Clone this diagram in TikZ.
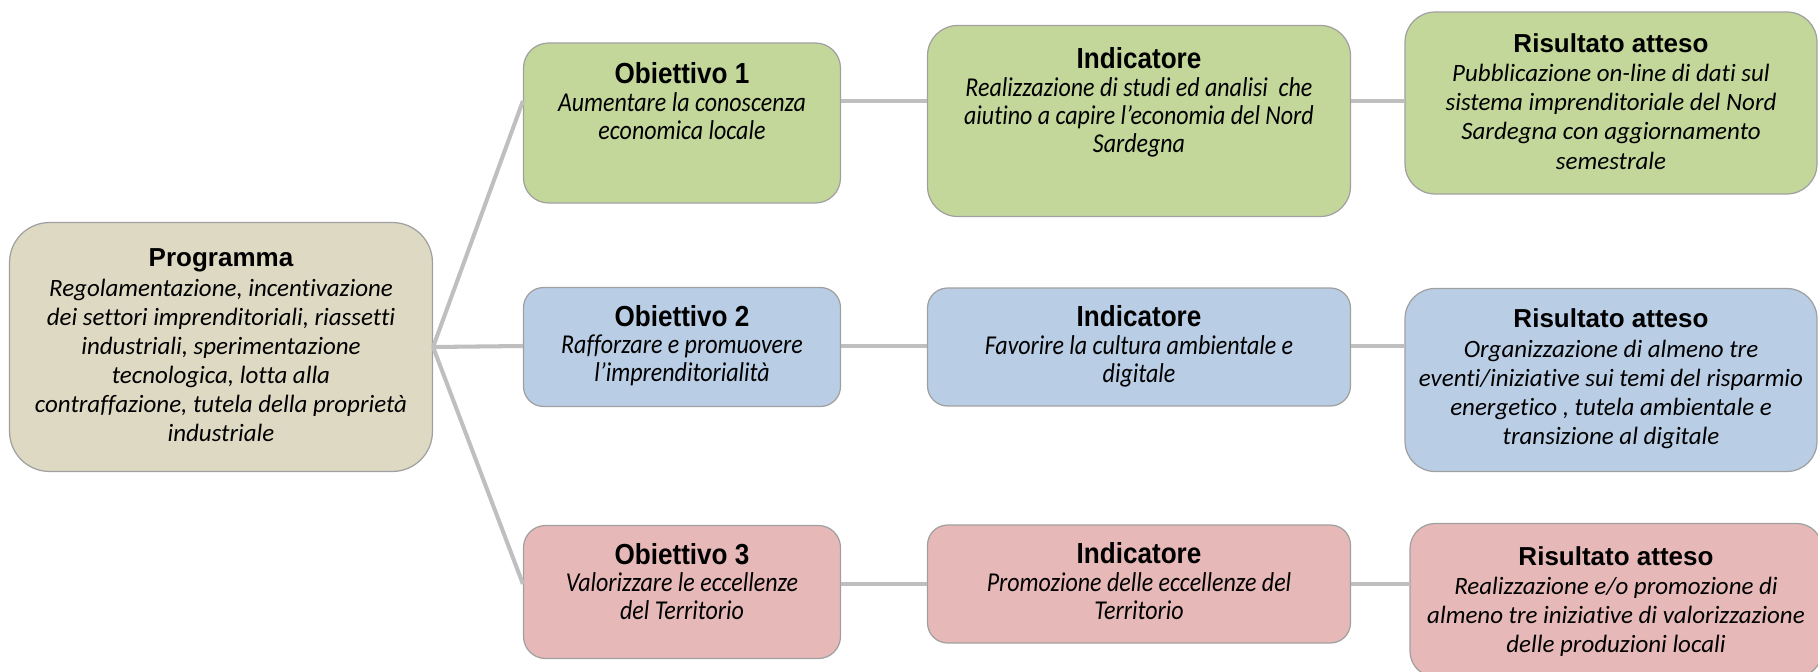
\documentclass[tikz,border=0pt]{standalone}
\usepackage{fontspec}
\usepackage{tikz}

\setmainfont{Carlito}[Ligatures=NoCommon]
\newfontfamily\arialfont{Liberation Sans}
\newfontfamily\arialnarrow[FakeStretch=0.9]{Liberation Sans}
\newfontfamily\calnarrow[FakeStretch=0.88, Ligatures=NoCommon]{Carlito}

\definecolor{progfill}{RGB}{221,217,195}
\definecolor{grnfill}{RGB}{196,215,155}
\definecolor{bluefill}{RGB}{185,205,229}
\definecolor{redfill}{RGB}{230,185,184}
\definecolor{edgegray}{RGB}{160,160,160}
\definecolor{linkgray}{RGB}{191,191,191}

\newcommand{\ttl}{\arialfont\bfseries\fontsize{14.8}{17}\selectfont}
\newcommand{\bdy}{\itshape\fontsize{14.2}{16.6}\selectfont}
\newcommand{\ttlm}{\arialnarrow\bfseries\fontsize{16.5}{18}\selectfont}
\newcommand{\bdym}{\calnarrow\itshape\fontsize{15.5}{15.9}\selectfont}

\begin{document}
\begin{tikzpicture}[x=0.02cm, y=-0.02cm,
    box/.style={draw=edgegray, line width=0.7pt, inner sep=0pt},
    link/.style={linkgray, line width=2.3pt}]
    \useasboundingbox (0,0) rectangle (1818,672);

%programma
    \node[box, fill=progfill, rounded corners=0.8cm] (prog) at (221,347)
        {\parbox[c][4.98cm][t]{8.46cm}{\centering\vspace*{0.53cm}{\ttl Programma}\par
        {\bdy Regolamentazione, incentivazione\\dei settori imprenditoriali, riassetti\\industriali, sperimentazione\\tecnologica, lotta alla\\contraffazione, tutela della proprietà\\industriale\par}}};

%row 1 green
    \node[box, fill=grnfill, rounded corners=0.5cm] (ob1) at (682,123)
        {\parbox[c][3.2cm][t]{6.34cm}{\centering\vspace*{0.39cm}{\ttlm Obiettivo 1}\par
        {\bdym Aumentare la conoscenza\\economica locale\par}}};
    \node[box, fill=grnfill, rounded corners=0.6cm] (ind1) at (1139,121)
        {\parbox[c][3.82cm][t]{8.46cm}{\centering\vspace*{0.44cm}{\ttlm Indicatore}\par
        {\bdym Realizzazione di studi ed analisi \ che\\aiutino a capire l’economia del Nord\\Sardegna\par}}};
    \node[box, fill=grnfill, rounded corners=0.6cm] (res1) at (1611,103)
        {\parbox[c][3.64cm][t]{8.24cm}{\centering\vspace*{0.43cm}{\ttl Risultato atteso}\par
        {\bdy Pubblicazione on-line di dati sul\\sistema imprenditoriale del Nord\\Sardegna con aggiornamento\\semestrale\par}}};

%row 2 blue
    \node[box, fill=bluefill, rounded corners=0.4cm] (ob2) at (682,347)
        {\parbox[c][2.38cm][t]{6.34cm}{\centering\vspace*{0.35cm}{\ttlm Obiettivo 2}\par
        {\bdym Rafforzare e promuovere\\l’imprenditorialità\par}}};
    \node[box, fill=bluefill, rounded corners=0.4cm] (ind2) at (1139,347)
        {\parbox[c][2.36cm][t]{8.46cm}{\centering\vspace*{0.35cm}{\ttlm Indicatore}\par
        {\bdym Favorire la cultura ambientale e\\digitale\par}}};
    \node[box, fill=bluefill, rounded corners=0.6cm] (res2) at (1611,380)
        {\parbox[c][3.66cm][t]{8.24cm}{\centering\vspace*{0.41cm}{\ttl Risultato atteso}\par
        {\bdy Organizzazione di almeno tre\\eventi/iniziative sui temi del risparmio\\energetico , tutela ambientale e\\transizione al digitale\par}}};

%row 3 red
    \node[box, fill=redfill, rounded corners=0.44cm] (ob3) at (682,592)
        {\parbox[c][2.66cm][t]{6.34cm}{\centering\vspace*{0.35cm}{\ttlm Obiettivo 3}\par
        {\bdym Valorizzare le eccellenze\\del Territorio\par}}};
    \node[box, fill=redfill, rounded corners=0.4cm] (ind3) at (1139,584)
        {\parbox[c][2.36cm][t]{8.46cm}{\centering\vspace*{0.35cm}{\ttlm Indicatore}\par
        {\bdym Promozione delle eccellenze del\\Territorio\par}}};
    \node[box, fill=redfill, rounded corners=0.5cm] (res3) at (1616,600)
        {\parbox[c][3.06cm][t]{8.24cm}{\centering\vspace*{0.46cm}{\ttl Risultato atteso}\par
        {\bdy Realizzazione e/o promozione di\\almeno tre iniziative di valorizzazione\\delle produzioni locali\par}}};

%connectors
    \coordinate (r1) at (0,101);
    \coordinate (r2) at (0,346);
    \coordinate (r3) at (0,584);

    \draw[link] (prog.east) -- (ob1.west |- r1);
    \draw[link] (prog.east) -- (ob2.west |- r2);
    \draw[link] (prog.east) -- (ob3.west |- r3);

    \draw[link] (ob1.east |- r1) -- (ind1.west |- r1);
    \draw[link] (ind1.east |- r1) -- (res1.west |- r1);
    \draw[link] (ob2.east |- r2) -- (ind2.west |- r2);
    \draw[link] (ind2.east |- r2) -- (res2.west |- r2);
    \draw[link] (ob3.east |- r3) -- (ind3.west |- r3);
    \draw[link] (ind3.east |- r3) -- (res3.west |- r3);

\end{tikzpicture}
\end{document}
